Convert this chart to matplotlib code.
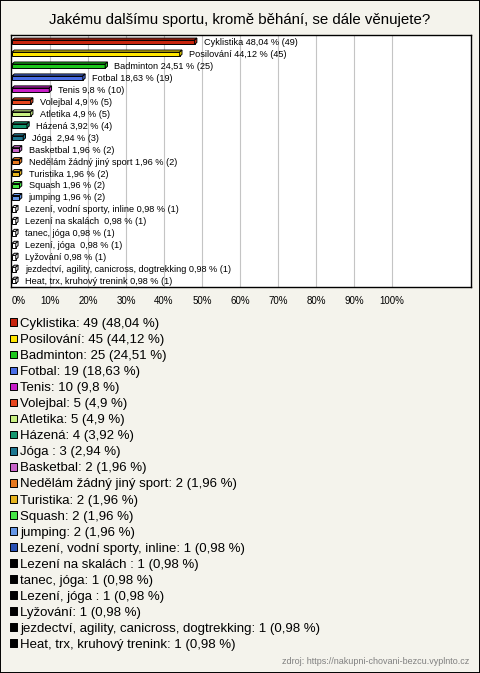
import matplotlib.pyplot as plt
from matplotlib.patches import Polygon, Rectangle
import numpy as np

plt.rcParams["font.family"] = ["Liberation Sans", "DejaVu Sans"]

# Data
sports = [
    "Cyklistika", "Posilování", "Badminton", "Fotbal", "Tenis", "Volejbal",
    "Atletika", "Házená", "Jóga ", "Basketbal", "Nedělám žádný jiný sport",
    "Turistika", "Squash", "jumping", "Lezení, vodní sporty, inline",
    "Lezení na skalách ", "tanec, jóga", "Lezení, jóga ", "Lyžování",
    "jezdectví, agility, canicross, dogtrekking", "Heat, trx, kruhový trenink",
]
counts = [49, 45, 25, 19, 10, 5, 5, 4, 3, 2, 2, 2, 2, 2, 1, 1, 1, 1, 1, 1, 1]
percents = [48.04, 44.12, 24.51, 18.63, 9.8, 4.9, 4.9, 3.92, 2.94, 1.96, 1.96,
            1.96, 1.96, 1.96, 0.98, 0.98, 0.98, 0.98, 0.98, 0.98, 0.98]
colors = [
    "#c8250e", "#ffe600", "#1ec81e", "#4a6ee6", "#c81ec8", "#e6461e",
    "#c8f082", "#14966e", "#1e7891", "#c864c8", "#e6781e", "#e6b41e",
    "#46e646", "#6496e6", "#2850b4", "#000000", "#000000", "#000000",
    "#000000", "#000000", "#000000",
]
xticks = list(range(0, 101, 10))
xtick_labels = [f"{t}%" for t in xticks]

title = "Jakému dalšímu sportu, kromě běhání, se dále věnujete?"
source = "zdroj: https://nakupni-chovani-bezcu.vyplnto.cz"


def fmt(p):
    return f"{p:g}".replace(".", ",")


W, H = 480, 673
fig = plt.figure(figsize=(W / 100, H / 100), dpi=100, facecolor="#f4f3ec")
fig.patches.append(Rectangle((0, 0), 1, 1, transform=fig.transFigure,
                             fill=False, edgecolor="black", linewidth=1.4))

fig.text(0.5, 1 - 20 / H, title, ha="center", va="center", fontsize=10.8)

# Bar chart area (pixel-measured box)
left, right, top, bottom = 10.9, 470.7, 35, 286.7
ax = fig.add_axes([left / W, 1 - bottom / H, (right - left) / W, (bottom - top) / H])
ax.set_facecolor("white")
ax.set_xlim(-0.3, 120.7)
ax.set_ylim(20.5, -0.56)

y = np.arange(len(sports))
h = 0.36
dx, dy = 0.6, 0.17
yc = y + 0.05
bar_fill = [c if n > 1 else "white" for c, n in zip(colors, counts)]

for gx in xticks[1:]:
    ax.axvline(gx, color="#c4c4c4", linewidth=0.8, zorder=0)

ax.barh(yc, percents, height=h, color=bar_fill, edgecolor="black",
        linewidth=0.7, zorder=3)
for yi, v, c in zip(yc, percents, bar_fill):
    ytop = yi - h / 2
    ybot = yi + h / 2
    ax.add_patch(Polygon([(0, ytop), (v, ytop), (v + dx, ytop - dy), (dx, ytop - dy)],
                         closed=True, facecolor=c, edgecolor="black",
                         linewidth=0.7, zorder=3))
    ax.add_patch(Polygon([(v, ytop), (v + dx, ytop - dy), (v + dx, ybot - dy), (v, ybot)],
                         closed=True, facecolor=c, edgecolor="black",
                         linewidth=0.7, zorder=3))

for yi, name, n, p in zip(y, sports, counts, percents):
    ax.text(p + 2.4, yi + 0.28, f"{name} {fmt(p)} % ({n})", va="baseline", ha="left",
            fontsize=6.6, zorder=4)

ax.set_yticks([])
ax.set_xticks(xticks)
ax.set_xticklabels(xtick_labels, fontsize=7)
ax.tick_params(axis="x", length=0, pad=6.5)
ax.get_xticklabels()[0].set_ha("left")
for s in ax.spines.values():
    s.set_linewidth(1.0)
    s.set_color("black")

# Legend drawn in pixel coordinates
lax = fig.add_axes([0, 0, 1, 1])
lax.set_xlim(0, W)
lax.set_ylim(H, 0)
lax.axis("off")
rows = 322.3 + 16.05 * np.arange(len(sports))
lax.scatter(np.full(len(sports), 13.4), rows, marker="s", s=30, c=colors,
            edgecolors="black", linewidths=0.7)
for r, name, n, p in zip(rows, sports, counts, percents):
    lax.text(20.3, r + 4.7, f"{name}: {n} ({fmt(p)} %)", va="baseline", ha="left",
             fontsize=9.5)

lax.text(469, 664.5, source, ha="right", va="baseline", fontsize=6.5, color="#808080")

fig.savefig("out.png", dpi=100, facecolor=fig.get_facecolor())
